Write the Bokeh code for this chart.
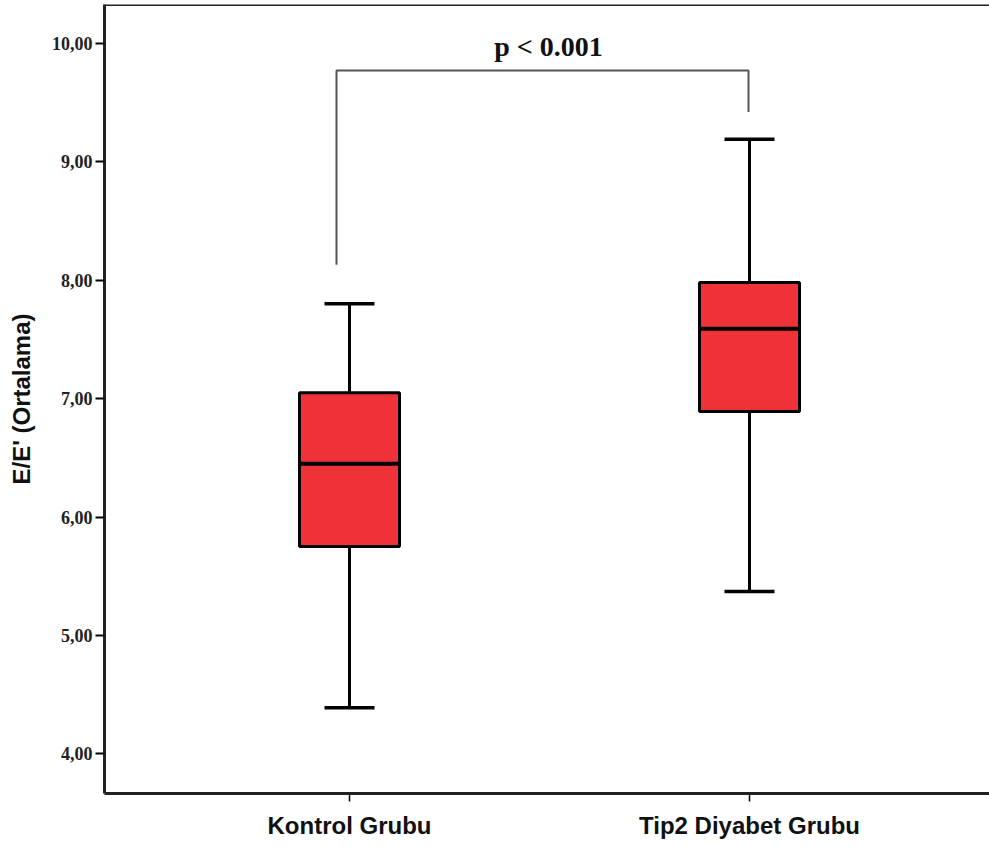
from bokeh.plotting import figure
from bokeh.models import Range1d, FixedTicker, Span, ColumnDataSource
from bokeh.embed import file_html
from bokeh.resources import INLINE
from bokeh.core.properties import value

# ---- data ----
categories = ["Kontrol Grubu", "Tip2 Diyabet Grubu"]
positions = [1, 2]
whisker_low = [4.39, 5.37]
q1 = [5.75, 6.89]
median = [6.45, 7.59]
q3 = [7.05, 7.98]
whisker_high = [7.80, 9.19]

y_ticks = [4, 5, 6, 7, 8, 9, 10]
y_tick_labels = ["4,00", "5,00", "6,00", "7,00", "8,00", "9,00", "10,00"]

bracket_x = [0.9675, 0.9675, 1.9975, 1.9975]
bracket_y = [8.13, 9.77, 9.77, 9.42]
p_text = "p < 0.001"

BOX_W = 0.25
CAP_W = 0.125

p = figure(width=989, height=847, output_backend="svg", toolbar_location=None,
           x_range=Range1d(0.3875, 2.6), y_range=Range1d(3.665, 10.328),
           min_border_left=104, min_border_right=0, min_border_top=4, min_border_bottom=54)
p.outline_line_color = None
p.xgrid.visible = False
p.ygrid.visible = False
p.background_fill_color = "white"
p.border_fill_color = "white"

# top frame line
p.add_layout(Span(location=10.328, dimension="width", line_color="#222222", line_width=3))

src = ColumnDataSource(dict(
    x=positions, lo=whisker_low, q1=q1, med=median, q3=q3, hi=whisker_high,
    cap_l=[x - CAP_W / 2 for x in positions], cap_r=[x + CAP_W / 2 for x in positions],
    box_l=[x - BOX_W / 2 for x in positions], box_r=[x + BOX_W / 2 for x in positions],
))

# whiskers
p.segment(x0="x", y0="q3", x1="x", y1="hi", source=src, line_color="black", line_width=3)
p.segment(x0="x", y0="lo", x1="x", y1="q1", source=src, line_color="black", line_width=3)
p.segment(x0="cap_l", y0="hi", x1="cap_r", y1="hi", source=src, line_color="black", line_width=3.5)
p.segment(x0="cap_l", y0="lo", x1="cap_r", y1="lo", source=src, line_color="black", line_width=3.5)
# boxes
p.vbar(x="x", bottom="q1", top="q3", width=BOX_W, source=src,
       fill_color="#EE3238", line_color="black", line_width=3)
p.segment(x0="box_l", y0="med", x1="box_r", y1="med", source=src, line_color="black", line_width=4)

# significance bracket
p.line(bracket_x, bracket_y, line_color="#555555", line_width=2)
p.text(x=[(bracket_x[0] + bracket_x[-1]) / 2 + 0.015], y=[9.97], text=[p_text],
       text_font=value("Liberation Serif"), text_font_style="bold", text_font_size="28px",
       text_align="center", text_baseline="alphabetic", text_color="#111111")

# axes
ya = p.yaxis[0]
ya.ticker = FixedTicker(ticks=y_ticks)
ya.major_label_overrides = {t: l for t, l in zip(y_ticks, y_tick_labels)}
ya.axis_label = "E/E' (Ortalama)"
ya.axis_label_text_font = "Liberation Sans"
ya.axis_label_text_font_style = "bold"
ya.axis_label_text_font_size = "24px"
ya.axis_label_text_color = "#111111"
ya.axis_label_standoff = 14
ya.major_label_text_font = "Liberation Serif"
ya.major_label_text_font_style = "bold"
ya.major_label_text_font_size = "18px"
ya.major_label_text_color = "#222222"
ya.major_label_standoff = 3
ya.major_tick_out = 9
ya.major_tick_in = 0
ya.major_tick_line_width = 2
ya.minor_tick_out = 0
ya.minor_tick_in = 0
ya.axis_line_width = 3
ya.axis_line_color = "#222222"

xa = p.xaxis[0]
xa.ticker = FixedTicker(ticks=positions)
xa.major_label_overrides = {x: c for x, c in zip(positions, categories)}
xa.major_label_text_font = "Liberation Sans"
xa.major_label_text_font_style = "bold"
xa.major_label_text_font_size = "24px"
xa.major_label_text_color = "#111111"
xa.major_label_standoff = 10
xa.major_tick_out = 8
xa.major_tick_in = 0
xa.major_tick_line_width = 1.5
xa.minor_tick_out = 0
xa.minor_tick_in = 0
xa.axis_line_width = 3
xa.axis_line_color = "#222222"

open("out.html", "w").write(file_html(p, INLINE))
